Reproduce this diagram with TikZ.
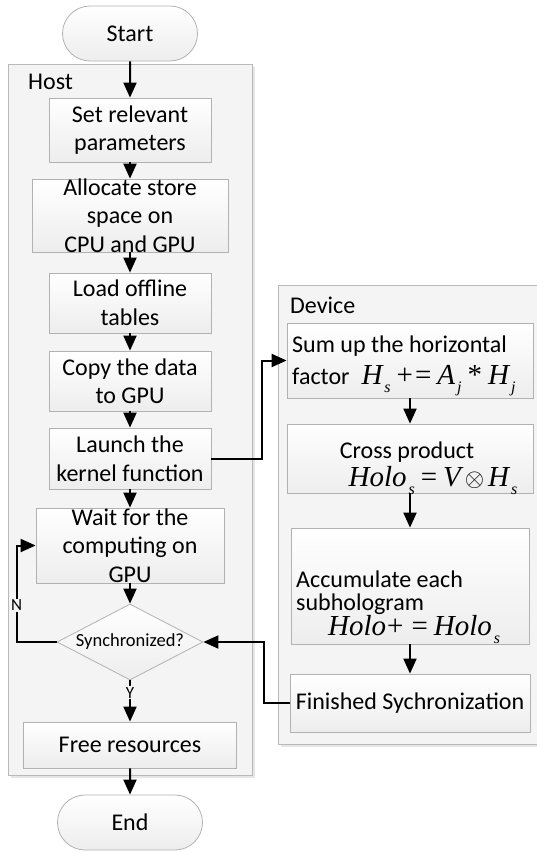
\documentclass[tikz,border=0pt]{standalone}
\usepackage{fontspec}
\setmainfont{Carlito}
\newfontfamily\eqrm{Liberation Serif}
\usepackage{tikz}
\usetikzlibrary{arrows.meta,positioning,shapes.geometric,shapes.misc,shadows}

\newcommand{\eqfont}{\eqrm\itshape\fontsize{29}{31}\selectfont}
\newcommand{\lowsub}[1]{\kern2pt\raisebox{-8pt}{\fontsize{16}{16}\selectfont#1}}
\newcommand{\op}[1]{\kern6pt{\upshape#1}\kern6pt}

\begin{document}
\begin{tikzpicture}[x=1pt, y=-1pt, >={Triangle[length=15pt,width=13pt]},
  every node/.style={font=\fontsize{24}{28.5}\selectfont},
  lane/.style={draw=gray!55, fill=gray!9, line width=0.8pt,
    drop shadow={shadow xshift=3pt, shadow yshift=-3pt, opacity=0.2}},
  proc/.style={draw=gray!60, top color=white, bottom color=gray!14,
    line width=0.8pt, align=center, inner sep=2pt},
  term/.style={proc, rounded rectangle, minimum width=139pt, minimum height=55pt},
  note/.style={inner sep=0pt, align=left},
  flow/.style={->, line width=2pt},
  tag/.style={fill=gray!9, inner sep=1pt, font=\fontsize{17}{19}\selectfont}]
  \useasboundingbox (0,0) rectangle (537,852);

  % swim lanes
  \node[lane, minimum width=244pt, minimum height=711pt] (host) at (130,419.5) {};
  \node[lane, minimum width=262pt, minimum height=459pt] (dev) at (409,514.5) {};
  \node[anchor=west, inner sep=0pt] (hostlbl) at (28,82) {Host};
  \node[anchor=west, inner sep=0pt] (devlbl) at (290,305) {Device};

  % host side
  \node[term] (start) at (130,33.5) {Start};
  \node[proc, minimum width=162pt, minimum height=64pt] (set) at (130,130) {Set relevant\\parameters};
  \node[proc, minimum width=196pt, minimum height=73pt, inner ysep=-5pt] (alloc) at (130,215.5)
    {Allocate store\\space on\\CPU and GPU};
  \node[proc, minimum width=162pt, minimum height=60pt] (load) at (130,303) {Load offline\\tables};
  \node[proc, minimum width=162pt, minimum height=60pt] (copy) at (130,381) {Copy the data\\to GPU};
  \node[proc, minimum width=162pt, minimum height=61pt] (launch) at (130,458.5) {Launch the\\kernel function};
  \node[proc, minimum width=188pt, minimum height=75pt, inner ysep=-5pt] (wait) at (130,545.5)
    {Wait for the\\computing on\\GPU};
  \node[proc, diamond, aspect=2, inner sep=0pt, minimum width=146pt, minimum height=76pt,
    font=\fontsize{18.5}{20}\selectfont] (sync) at (130,642) {Synchronized?};
  \node[proc, minimum width=213pt, minimum height=46pt] (free) at (130,745) {Free resources};
  \node[term, minimum width=149pt] (end) at (130,822.5) {End};

  % device side
  \node[proc, minimum width=246pt, minimum height=75pt] (sum) at (410,360.5) {};
  \node[note, anchor=west] (sumtxt) at (292,366)
    {Sum up the horizontal\\[4pt]factor\hspace{12pt}{\eqfont H\lowsub{s}\op{+\kern2pt=}A\lowsub{j}\op{*}H\lowsub{j}}};
  \node[proc, minimum width=246pt, minimum height=69pt] (cross) at (410,458.5) {};
  \node[note, align=center] (crosstxt) at (407,468)
    {Cross product\\[0pt]\hspace*{52pt}{\eqfont Holo\lowsub{s}\op{=}V\kern4pt$\otimes$\kern4pt H\lowsub{s}}};
  \node[proc, minimum width=238pt, minimum height=116pt] (accum) at (410,586) {};
  \node[note, anchor=west, font=\fontsize{24}{23}\selectfont] (accumtxt) at (296,607)
    {Accumulate each\\subhologram\\\hspace*{32pt}{\eqfont Holo\kern1pt{\upshape+}\kern2pt\op{=}Holo\lowsub{s}}};
  \node[proc, minimum width=240pt, minimum height=58pt] (fin) at (410,703)
    {Finished Sychronization};

  \draw[flow] (start) -- (set);
  \draw[flow] (set) -- (alloc);
  \draw[flow] (alloc) -- (load);
  \draw[flow] (load) -- (copy);
  \draw[flow] (copy) -- (launch);
  \draw[flow] (launch) -- (wait);
  \draw[flow] (wait) -- (sync);
  \draw[flow] (sync) -- node[tag, pos=0.3] (yes) {Y} (free);
  \draw[flow] (free) -- (end);
  \draw[flow] (sync.west) -- ++(-40,0) |- node[tag, pos=0.19] (no) {N} (wait.west);

  \draw[flow] (launch.east) -- ++(51,0) |- (sum.west);
  \draw[flow] (sum) -- (cross);
  \draw[flow] (cross) -- (accum);
  \draw[flow] (accum) -- (fin);
  \draw[flow] (fin.west) -- ++(-26,0) |- (sync.east);
\end{tikzpicture}
\end{document}
